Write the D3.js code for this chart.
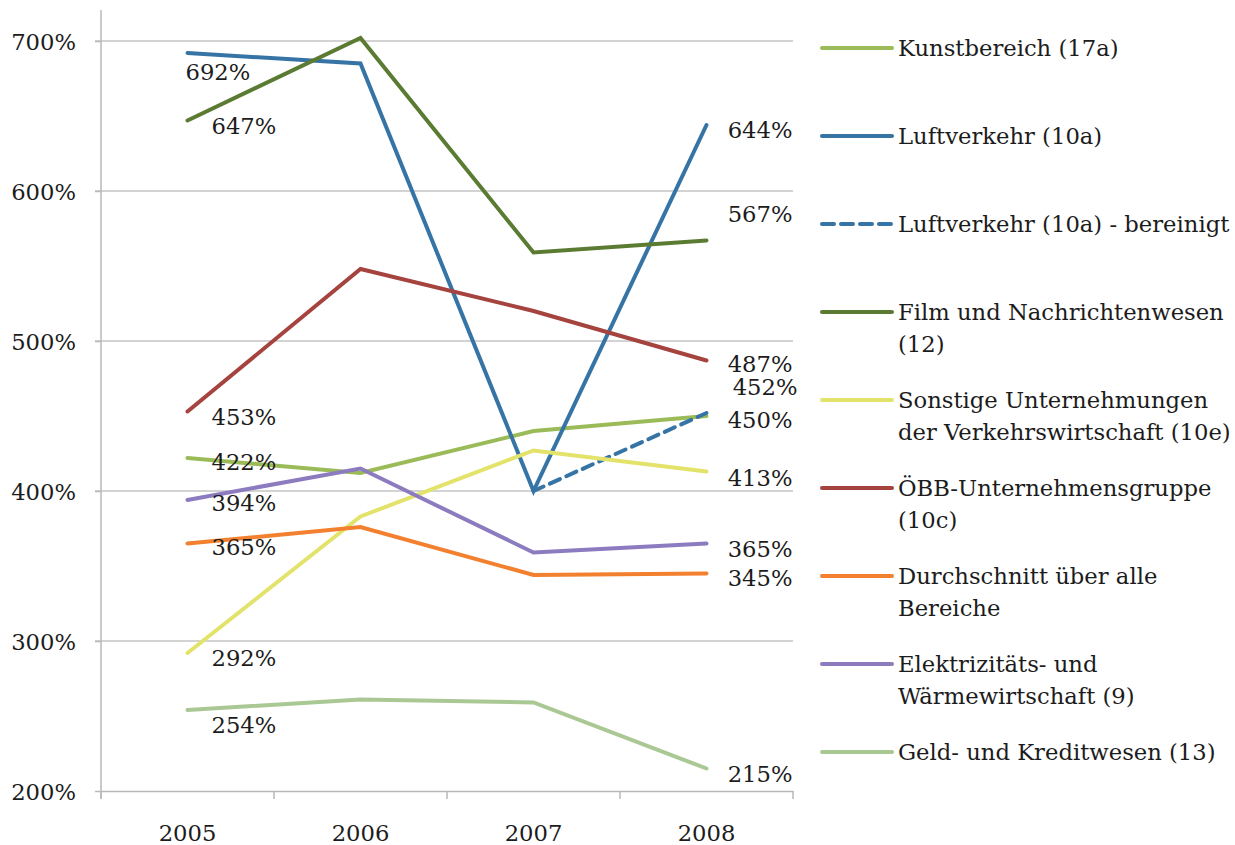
<!DOCTYPE html>
<html>
<head>
<meta charset="utf-8">
<script src="https://cdn.jsdelivr.net/npm/d3@7"></script>
<style>
    body { margin: 0; background: #fff; }
    #chart text { font-family: 'DejaVu Serif', serif; fill: #1c1c1c; }
</style>
</head>
<body>
<div id="chart"></div>
<script>
// Data
const years = ['2005', '2006', '2007', '2008'];
const yTicks = [200, 300, 400, 500, 600, 700];

const kunstbereich = [422, 412, 440, 450];
const luftverkehr = [692, 685, 400, 644];
const luftverkehrBereinigt = [null, null, 400, 452];
const film = [647, 702, 559, 567];
const sonstige = [292, 383, 427, 413];
const oebb = [453, 548, 520, 487];
const durchschnitt = [365, 376, 344, 345];
const elektrizitaet = [394, 415, 359, 365];
const geld = [254, 261, 259, 215];

const seriesNames = [
    'Kunstbereich (17a)',
    'Luftverkehr (10a)',
    'Luftverkehr (10a) - bereinigt',
    'Film und Nachrichtenwesen|(12)',
    'Sonstige Unternehmungen|der Verkehrswirtschaft (10e)',
    'ÖBB-Unternehmensgruppe|(10c)',
    'Durchschnitt über alle|Bereiche',
    'Elektrizitäts- und|Wärmewirtschaft (9)',
    'Geld- und Kreditwesen (13)'
];

// Styles (colour, dashed) in legend order
const seriesStyle = [
    { color: '#9bbb59' },
    { color: '#3574a5' },
    { color: '#3574a5', dash: '11,7' },
    { color: '#5b7b32' },
    { color: '#e3e36b' },
    { color: '#a5443f' },
    { color: '#f2802e' },
    { color: '#8c7bbf' },
    { color: '#aac894' }
];

const seriesValues = [kunstbereich, luftverkehr, luftverkehrBereinigt, film,
    sonstige, oebb, durchschnitt, elektrizitaet, geld];

// Value labels: [series index, year index, label nudge dx, dy]
const valueLabels = [
    [1, 0, -2, 19], [3, 0, 24, 5], [5, 0, 24, 5], [0, 0, 24, 4],
    [7, 0, 24, 3], [6, 0, 24, 3], [4, 0, 24, 5], [8, 0, 24, 15],
    [1, 3, 86, 5], [3, 3, 86, -27], [5, 3, 86, 3], [2, 3, 91, -26],
    [0, 3, 86, 4], [4, 3, 86, 6], [7, 3, 86, 5], [6, 3, 86, 4], [8, 3, 86, 5]
];

const fontSize = '22.7px';
const width = 1235, height = 845;
const plot = { left: 101, right: 793, top: 41, bottom: 791 };

const svg = d3.select('#chart').append('svg')
    .attr('width', width)
    .attr('height', height);

const x = d3.scaleBand().domain(years).range([plot.left, plot.right]);
const y = d3.scaleLinear().domain([200, 700]).range([plot.bottom, plot.top]);

// Gridlines
svg.append('g')
    .selectAll('line')
    .data(yTicks.filter(t => t > 200))
    .enter().append('line')
    .attr('x1', plot.left - 6).attr('x2', plot.right)
    .attr('y1', d => y(d)).attr('y2', d => y(d))
    .attr('stroke', '#c4c4c4').attr('stroke-width', 1.5);

// Y axis
const yAxis = svg.append('g')
    .attr('transform', `translate(${plot.left},0)`)
    .call(d3.axisLeft(y).tickValues(yTicks).tickSize(6).tickFormat(d => d + '%'));
yAxis.select('.domain').attr('d', `M0,10V${plot.bottom + 8}`);
yAxis.selectAll('path, line').attr('stroke', '#b8b8b8').attr('stroke-width', 1.5);
yAxis.selectAll('text').attr('x', -25).attr('dy', '0.36em')
    .style('font-size', fontSize);

// X axis
const xAxis = svg.append('g')
    .attr('transform', `translate(0,${plot.bottom})`)
    .call(d3.axisBottom(x).tickSize(0));
xAxis.select('.domain').attr('stroke', '#b8b8b8').attr('stroke-width', 1.5);
xAxis.selectAll('text').attr('y', 42).attr('dy', '0.36em').style('font-size', fontSize);

// Tick marks between categories
xAxis.selectAll('.sep')
    .data(years.map(d => x(d)).concat([plot.right]))
    .enter().append('line')
    .attr('x1', d => d).attr('x2', d => d)
    .attr('y1', 0).attr('y2', 8)
    .attr('stroke', '#b8b8b8').attr('stroke-width', 1.5);

const cx = d => x(d) + x.bandwidth() / 2;

// Lines
const line = d3.line()
    .defined(d => d.v !== null)
    .x(d => cx(d.year))
    .y(d => y(d.v));

seriesValues.forEach((vals, i) => {
    const pts = years.map((yr, j) => ({ year: yr, v: vals[j] }));
    svg.append('path')
        .datum(pts)
        .attr('d', line)
        .attr('fill', 'none')
        .attr('stroke', seriesStyle[i].color)
        .attr('stroke-width', 4)
        .attr('stroke-linecap', 'round')
        .attr('stroke-dasharray', seriesStyle[i].dash || null);
});

// Value labels
svg.append('g')
    .selectAll('text')
    .data(valueLabels)
    .enter().append('text')
    .attr('x', d => cx(years[d[1]]) + d[2])
    .attr('y', d => y(seriesValues[d[0]][d[1]]) + d[3])
    .attr('dy', '0.36em')
    .attr('text-anchor', d => d[1] === 0 ? 'start' : 'end')
    .style('font-size', fontSize)
    .text(d => seriesValues[d[0]][d[1]] + '%');

// Legend
const legend = svg.append('g').attr('transform', 'translate(822,48)');
const items = legend.selectAll('g')
    .data(seriesNames)
    .enter().append('g')
    .attr('transform', (d, i) => `translate(0,${i * 88})`);

items.append('line')
    .attr('x1', 0).attr('x2', 70)
    .attr('stroke', (d, i) => seriesStyle[i].color)
    .attr('stroke-width', 4)
    .attr('stroke-linecap', 'round')
    .attr('stroke-dasharray', (d, i) => seriesStyle[i].dash ? '12,7' : null);

items.append('text')
    .attr('x', 76)
    .style('font-size', fontSize)
    .selectAll('tspan')
    .data(d => d.split('|'))
    .enter().append('tspan')
    .attr('x', 76)
    .attr('y', (d, k) => k * 32)
    .attr('dy', '0.36em')
    .text(d => d);
</script>
</body>
</html>
